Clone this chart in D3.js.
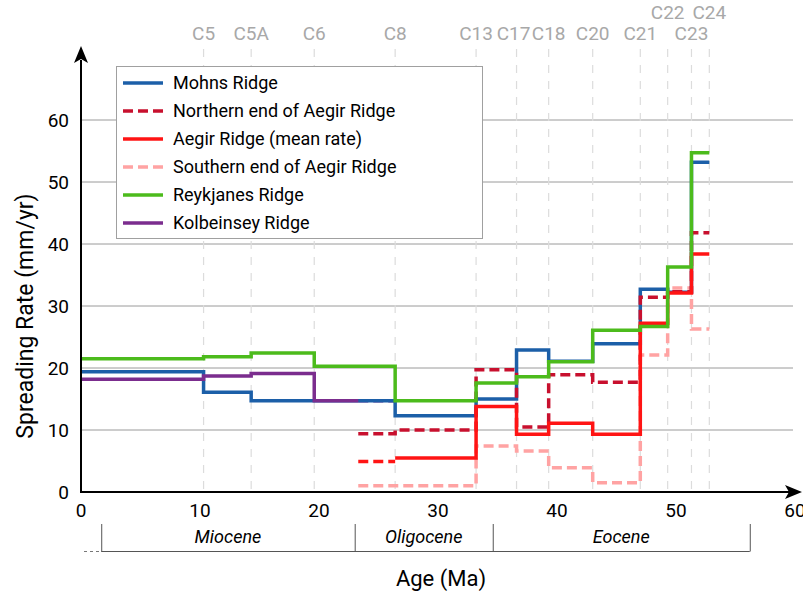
<!doctype html>
<html lang="en">
<head>
  <meta charset="utf-8">
  <title>Spreading rates</title>
  <style>
    body { margin: 0; background: #fff; }
    svg { font-family: Roboto, 'Open Sans', sans-serif; }
  </style>
</head>
<body>
<div id="vis"></div>
<script src="https://d3js.org/d3.v7.min.js"></script>
<script>
    // magnetic chrons along the top
    const chronNames = ['C5', 'C5A', 'C6', 'C8', 'C13', 'C17', 'C18', 'C20', 'C21', 'C22', 'C23', 'C24'];
    const chronAges = [10.3, 14.3, 19.6, 26.4, 33.2, 36.6, 39.3, 43.0, 47.0, 49.3, 51.3, 52.8];

    // epochs under the x axis
    const epochNames = ['Miocene', 'Oligocene', 'Eocene'];
    const epochBounds = [1.7, 23.0, 34.6, 56.2];

    const xTicks = [0, 10, 20, 30, 40, 50, 60];
    const yTicks = [0, 10, 20, 30, 40, 50, 60];

    // step series: ages are the step edges, rates the value of each step
    const mohnsAges = [0, 10.3, 14.3, 26.4, 33.2, 36.6, 39.3, 43.0, 47.0, 49.3, 51.3, 52.8];
    const mohnsRates = [19.4, 16.1, 14.7, 12.3, 15.0, 22.9, 21.1, 23.9, 32.7, 32.2, 53.2];

    const northAges = [23.3, 26.4, 33.2, 36.6, 39.3, 43.0, 47.0, 49.3, 51.3, 52.8];
    const northRates = [9.4, 10.0, 19.7, 10.5, 18.9, 17.7, 31.4, 32.3, 41.8];

    const aegirAges = [26.4, 33.2, 36.6, 39.3, 43.0, 47.0, 49.3, 51.3, 52.8];
    const aegirRates = [5.5, 13.8, 9.3, 11.1, 9.3, 27.2, 32.1, 38.4];
    const aegirExtAges = [23.3, 26.4];
    const aegirExtRates = [4.9];

    const southAges = [23.3, 33.2, 36.6, 39.3, 43.0, 47.0, 49.3, 51.3, 52.8];
    const southRates = [1.0, 7.4, 6.6, 3.9, 1.5, 22.1, 32.9, 26.3];

    const reykAges = [0, 10.3, 14.3, 19.6, 26.4, 33.2, 36.6, 39.3, 43.0, 47.0, 49.3, 51.3, 52.8];
    const reykRates = [21.5, 21.8, 22.4, 20.3, 14.7, 17.6, 18.6, 21.0, 26.1, 26.7, 36.3, 54.7];

    const kolbAges = [0, 10.3, 14.3, 19.6, 23.3];
    const kolbRates = [18.2, 18.7, 19.1, 14.7];
    const kolbExtAges = [23.3, 26.4];
    const kolbExtRates = [14.7];

    const series = [
        { name: 'Mohns Ridge', ages: mohnsAges, rates: mohnsRates, color: '#1c5fa8', dash: null },
        { name: 'Northern end of Aegir Ridge', ages: northAges, rates: northRates, color: '#c8102e', dash: '10,5' },
        { name: 'Aegir Ridge (mean rate)', ages: aegirAges, rates: aegirRates, color: '#ff1414', dash: null },
        { name: 'Southern end of Aegir Ridge', ages: southAges, rates: southRates, color: '#ffa3a3', dash: '10,5' },
        { name: 'Reykjanes Ridge', ages: reykAges, rates: reykRates, color: '#4cbb1c', dash: null },
        { name: 'Kolbeinsey Ridge', ages: kolbAges, rates: kolbRates, color: '#7b2d8e', dash: null },
    ];
    const extensions = [
        { ages: aegirExtAges, rates: aegirExtRates, color: '#ff1414' },
        { ages: kolbExtAges, rates: kolbExtRates, color: '#7b2d8e' },
    ];
    // draw order (bottom to top)
    const drawOrder = [3, 0, 1, 2, 5, 4];

    const w = 803, h = 593;
    const x = d3.scaleLinear().domain([0, 60]).range([81, 795]);
    const y = d3.scaleLinear().domain([0, 60]).range([492, 120]);

    const svg = d3.select('#vis')
        .append('svg')
            .attr('width', w)
            .attr('height', h);

    const stepPoints = s => s.ages.map((a, i) => [a, s.rates[Math.min(i, s.rates.length - 1)]]);
    const line = d3.line()
        .x(d => x(d[0]))
        .y(d => y(d[1]))
        .curve(d3.curveStepAfter);

    // gridlines
    svg.append('g')
        .selectAll('line')
        .data(yTicks.filter(t => t > 0))
        .enter().append('line')
            .attr('x1', x(0))
            .attr('x2', 793)
            .attr('y1', d => y(d))
            .attr('y2', d => y(d))
            .attr('stroke', '#9a9a9a')
            .attr('stroke-width', 1);

    // chron lines + labels
    const chrons = svg.append('g');
    chrons.selectAll('line')
        .data(chronAges)
        .enter().append('line')
            .attr('x1', d => x(d))
            .attr('x2', d => x(d))
            .attr('y1', 49)
            .attr('y2', y(0))
            .attr('stroke', '#dcdcdc')
            .attr('stroke-width', 1.2)
            .attr('stroke-dasharray', '8,8');

    const upperRow = ['C22', 'C24'];
    chrons.selectAll('text')
        .data(chronNames)
        .enter().append('text')
            .attr('x', (d, i) => x(chronAges[i]) + (d == 'C17' ? -3 : 0))
            .attr('y', d => upperRow.includes(d) ? 19 : 40)
            .attr('text-anchor', 'middle')
            .attr('font-size', 19)
            .attr('fill', '#a8a8a8')
            .text(d => d);

    // legend box
    const legend = svg.append('g');
    legend.append('rect')
        .attr('x', 116.5)
        .attr('y', 66.5)
        .attr('width', 366)
        .attr('height', 172)
        .attr('fill', '#fff')
        .attr('stroke', '#a0a0a0')
        .attr('stroke-width', 1);

    const item = legend.selectAll('.item')
        .data(series)
        .enter().append('g')
            .attr('class', 'item')
            .attr('transform', (d, i) => 'translate(0,' + (83 + i * 28) + ')');
    item.append('line')
        .attr('x1', 123)
        .attr('x2', 163)
        .attr('stroke', d => d.color)
        .attr('stroke-width', 3.5)
        .attr('stroke-dasharray', d => d.dash);
    item.append('text')
        .attr('x', 173)
        .attr('dy', '0.35em')
        .attr('font-size', 18)
        .attr('fill', '#000')
        .text(d => d.name);

    // data lines
    const plot = svg.append('g');
    plot.selectAll('.ext')
        .data(extensions)
        .enter().append('path')
            .attr('class', 'ext')
            .attr('d', d => line(stepPoints(d)))
            .attr('fill', 'none')
            .attr('stroke', d => d.color)
            .attr('stroke-width', 3.5)
            .attr('stroke-dasharray', '10,5');

    plot.selectAll('.series')
        .data(drawOrder.map(i => series[i]))
        .enter().append('path')
            .attr('class', 'series')
            .attr('d', d => line(stepPoints(d)))
            .attr('fill', 'none')
            .attr('stroke', d => d.color)
            .attr('stroke-width', 3.5)
            .attr('stroke-dasharray', d => d.dash);

    // axes with arrows
    svg.append('line')
        .attr('x1', x(0)).attr('x2', x(0))
        .attr('y1', y(0) + 1).attr('y2', 60)
        .attr('stroke', '#000').attr('stroke-width', 2);
    svg.append('path')
        .attr('d', 'M' + x(0) + ',46 l-7,17 l7,-4 l7,4 z')
        .attr('fill', '#000');
    svg.append('line')
        .attr('x1', x(0) - 1).attr('x2', 790)
        .attr('y1', y(0)).attr('y2', y(0))
        .attr('stroke', '#000').attr('stroke-width', 2);
    svg.append('path')
        .attr('d', 'M802,' + y(0) + ' l-17,-7 l4,7 l-4,7 z')
        .attr('fill', '#000');

    // tick labels
    svg.append('g')
        .selectAll('text')
        .data(yTicks)
        .enter().append('text')
            .attr('x', 69)
            .attr('y', d => y(d))
            .attr('dy', '0.36em')
            .attr('text-anchor', 'end')
            .attr('font-size', 19)
            .attr('fill', '#000')
            .text(d => d);
    svg.append('g')
        .selectAll('text')
        .data(xTicks)
        .enter().append('text')
            .attr('x', d => x(d))
            .attr('y', 517)
            .attr('text-anchor', 'middle')
            .attr('font-size', 19)
            .attr('fill', '#000')
            .text(d => d);

    // epochs
    const ep = svg.append('g');
    ep.append('line')
        .attr('x1', x(epochBounds[0])).attr('x2', x(epochBounds[epochBounds.length - 1]))
        .attr('y1', 551.5).attr('y2', 551.5)
        .attr('stroke', '#555').attr('stroke-width', 1);
    ep.append('line')
        .attr('x1', 84).attr('x2', x(epochBounds[0]))
        .attr('y1', 551.5).attr('y2', 551.5)
        .attr('stroke', '#777').attr('stroke-width', 1)
        .attr('stroke-dasharray', '3,3');
    ep.selectAll('.tick')
        .data(epochBounds)
        .enter().append('line')
            .attr('class', 'tick')
            .attr('x1', d => x(d) + 0.5).attr('x2', d => x(d) + 0.5)
            .attr('y1', 524).attr('y2', 551.5)
            .attr('stroke', '#555').attr('stroke-width', 1);
    ep.selectAll('text')
        .data(epochNames)
        .enter().append('text')
            .attr('x', (d, i) => (x(epochBounds[i]) + x(epochBounds[i + 1])) / 2)
            .attr('y', 543)
            .attr('text-anchor', 'middle')
            .attr('font-size', 18)
            .attr('font-style', 'italic')
            .attr('fill', '#000')
            .text(d => d);

    // axis titles
    svg.append('text')
        .attr('x', 441)
        .attr('y', 586)
        .attr('text-anchor', 'middle')
        .attr('font-size', 22)
        .attr('fill', '#000')
        .text('Age (Ma)');
    svg.append('text')
        .attr('transform', 'translate(33,316) rotate(-90)')
        .attr('text-anchor', 'middle')
        .attr('font-size', 23)
        .attr('fill', '#000')
        .text('Spreading Rate (mm/yr)');
</script>
</body>
</html>
